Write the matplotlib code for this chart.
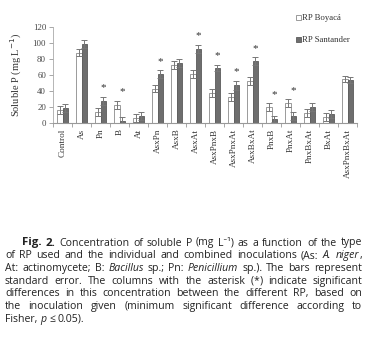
import re
import numpy as np
import matplotlib
matplotlib.use("Agg")
import matplotlib.pyplot as plt

categories = ["Control", "As", "Pn", "B", "At", "AsxPn", "AsxB", "AsxAt", "AsxPnxB",
              "AsxPnxAt", "AsxBxAt", "PnxB", "PnxAt", "PnxBxAt", "BxAt", "AsxPnxBxAt"]
boyaca = [16, 88, 14, 23, 6, 43, 72, 61, 37, 33, 52, 20, 25, 13, 8, 55]
santander = [19, 99, 28, 3, 9, 61, 75, 93, 69, 47, 77, 5, 9, 20, 11, 54]
err_boyaca = [5, 4, 5, 5, 5, 4, 5, 5, 5, 5, 5, 5, 5, 5, 5, 4]
err_santander = [5, 5, 5, 5, 5, 5, 5, 5, 4, 6, 5, 4, 5, 5, 5, 4]
significant = [False, False, True, True, False, True, False, True, True,
               True, True, True, True, False, False, False]
series_names = ["RP Boyacá", "RP Santander"]
y_ticks = [0, 20, 40, 60, 80, 100, 120]

W, H = 366, 344
fig = plt.figure(figsize=(W / 100, H / 100), dpi=100)
serif = ["Liberation Serif", "DejaVu Serif"]

ax = fig.add_axes([53 / W, 1 - 123 / H, (357 - 53) / W, (123 - 27) / H])
x = np.arange(len(categories))
bw = 0.28
ekw = dict(ecolor="#777777", elinewidth=0.7, capsize=2, capthick=0.7)
ax.bar(x - bw / 2, boyaca, bw, yerr=err_boyaca, color="white", edgecolor="#8a8a8a",
       linewidth=0.6, error_kw=ekw, label=series_names[0])
ax.bar(x + bw / 2, santander, bw, yerr=err_santander, color="#6e6e6e", edgecolor="#5a5a5a",
       linewidth=0.6, error_kw=ekw, label=series_names[1])
for i, s in enumerate(significant):
    if s:
        top = max(boyaca[i] + err_boyaca[i], santander[i] + err_santander[i])
        ax.text(i + 0.12, top + 5, "*", ha="center", va="bottom", fontsize=8,
                family=serif, color="#333333")

ax.set_xlim(-0.5, len(categories) - 0.5)
ax.set_ylim(0, 120)
ax.set_yticks(y_ticks)
ax.set_yticklabels([str(v) for v in y_ticks], family=serif, fontsize=6.3, color="#444444")
ax.set_xticks(x)
ax.set_xticklabels(categories, rotation=90, family=serif, fontsize=6.6, color="#333333")
ax.set_xticks(np.arange(len(categories) + 1) - 0.5, minor=True)
ax.tick_params(axis="x", which="major", length=0, pad=4)
ax.tick_params(axis="x", which="minor", length=3, color="#999999", width=0.6)
ax.tick_params(axis="y", length=3, color="#999999", width=0.6, pad=2)
for sp in ["top", "right"]:
    ax.spines[sp].set_visible(False)
ax.spines["left"].set_color("#aaaaaa")
ax.spines["bottom"].set_color("#999999")
ax.spines["left"].set_linewidth(0.6)
ax.spines["bottom"].set_linewidth(0.8)
ax.set_ylabel("Soluble P (mg L$^{-1}$)", family=serif, fontsize=7.5, color="#333333", labelpad=6)

leg = fig.legend(loc="upper left", bbox_to_anchor=(292 / W, 1 - 11 / H), frameon=False,
                 prop={"family": serif, "size": 6.3}, handlelength=0.6, handleheight=0.6,
                 handletextpad=0.1, labelspacing=1.6, borderaxespad=0)
for t in leg.get_texts():
    t.set_color("#333333")

# Caption (justified)
cap_font = ["Open Sans", "Noto Sans", "DejaVu Sans"]
cap_size = 7.6
lines = [
    "**Fig. 2.** Concentration of soluble P (mg L⁻¹) as a function of the type",
    "of RP used and the individual and combined inoculations (As: _A. niger_,",
    "At: actinomycete; B: _Bacillus_ sp.; Pn: _Penicillium_ sp.). The bars represent",
    "standard error. The columns with the asterisk (*) indicate significant",
    "differences in this concentration between the different RP, based on",
    "the inoculation given (minimum significant difference according to",
    "Fisher, _p_ ≤ 0.05).",
]
left_px, right_px = 5, 362
first_indent = 22
y0, dy = 242, 12.7


def parse(line):
    pieces = []
    for m in re.finditer(r"\*\*(.+?)\*\*|_(.+?)_|([^_*]+|\*)", line):
        if m.group(1):
            pieces.append((m.group(1), "bold"))
        elif m.group(2):
            pieces.append((m.group(2), "italic"))
        else:
            pieces.append((m.group(3), "normal"))
    words = [[]]
    for txt, st in pieces:
        parts = txt.split(" ")
        for k, p in enumerate(parts):
            if k > 0:
                words.append([])
            if p:
                words[-1].append((p, st))
    return [w for w in words if w]


renderer = fig.canvas.get_renderer()


def make_text(s, st):
    kw = dict(family=cap_font, fontsize=cap_size, color="#222222", va="baseline", ha="left")
    if st == "bold":
        kw["weight"] = "bold"
        kw["fontsize"] = cap_size * 1.08
    if st == "italic":
        kw["style"] = "italic"
    return fig.text(0, 0, s, transform=None, **kw)


ta = make_text("a b", "normal")
tb = make_text("ab", "normal")
space_w = ta.get_window_extent(renderer).width - tb.get_window_extent(renderer).width
ta.remove()
tb.remove()

for li, line in enumerate(lines):
    words = parse(line)
    objs = []
    widths = []
    for w in words:
        wo = []
        ww = 0
        for s, st in w:
            t = make_text(s, st)
            bb = t.get_window_extent(renderer)
            wo.append((t, bb.width))
            ww += bb.width
        objs.append(wo)
        widths.append(ww)
    start = left_px + (first_indent - left_px if li == 0 else 0)
    avail = right_px - start
    if li < len(lines) - 1 and len(words) > 1:
        gap = (avail - sum(widths)) / (len(words) - 1)
    else:
        gap = space_w
    xpos = start
    ypix = H - (y0 + li * dy) - 3.5
    for wo, ww in zip(objs, widths):
        xx = xpos
        for t, tw in wo:
            t.set_position((xx, ypix))
            xx += tw
        xpos += ww + gap

fig.savefig("out.png", dpi=100)
